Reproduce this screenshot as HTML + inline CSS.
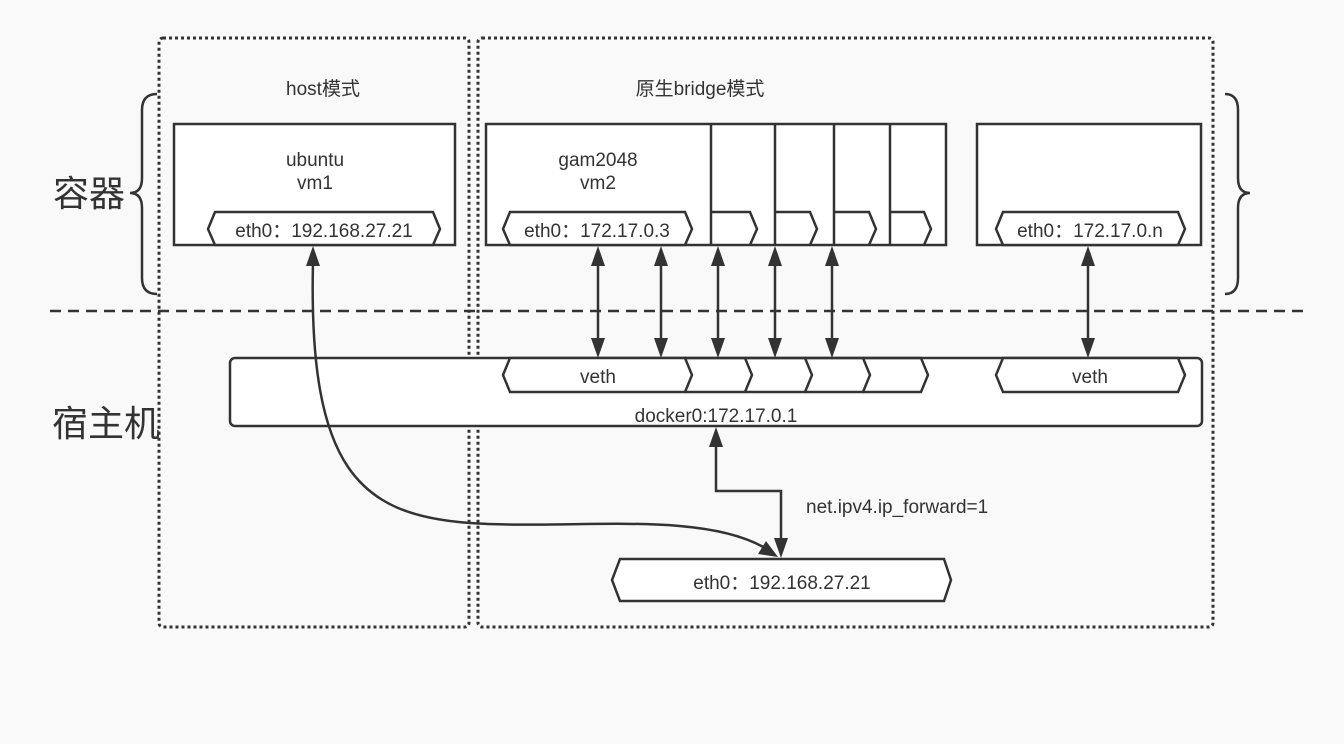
<!DOCTYPE html>
<html><head><meta charset="utf-8"><style>
html,body{margin:0;padding:0;background:#f9f9f9;}
svg{display:block;}
text{font-family:"Liberation Sans","Noto Sans CJK SC",sans-serif;fill:#333;}
</style></head><body>
<svg width="1344" height="744" viewBox="0 0 1344 744" xmlns="http://www.w3.org/2000/svg">
<rect width="1344" height="744" fill="#f9f9f9"/>
<g fill="none" stroke="#333" stroke-width="3" stroke-dasharray="3 3">
<rect x="159" y="38" width="310" height="589" rx="4"/>
<rect x="478" y="38" width="735" height="589" rx="4"/>
</g>
<line x1="50" y1="311" x2="1306" y2="311" stroke="#333" stroke-width="2.5" stroke-dasharray="11 7"/>
<g fill="none" stroke="#333" stroke-width="2.5">
<path d="M157,94 Q142,94 142,110 L142,178 Q142,193 130,193 Q142,193 142,208 L142,278 Q142,294 157,294"/>
<path d="M1225,94 Q1238,94 1238,110 L1238,178 Q1238,193 1250,193 Q1238,193 1238,208 L1238,278 Q1238,294 1225,294"/>
</g>
<text x="53" y="206" font-size="36">容器</text>
<text x="52" y="436" font-size="36">宿主机</text>
<text x="323" y="95" font-size="19" text-anchor="middle">host模式</text>
<text x="700" y="95" font-size="19" text-anchor="middle">原生bridge模式</text>
<g fill="#fff" stroke="#333" stroke-width="2.5">
<rect x="174" y="124" width="281" height="121"/>
<rect x="486" y="124" width="460" height="121"/>
<rect x="977" y="124" width="224" height="121"/>
<rect x="230" y="358" width="972" height="68" rx="5"/>
</g>
<g fill="none" stroke="#333" stroke-width="2.5">
<line x1="711" y1="124" x2="711" y2="245"/>
<line x1="775" y1="124" x2="775" y2="245"/>
<line x1="834" y1="124" x2="834" y2="245"/>
<line x1="890" y1="124" x2="890" y2="245"/>
<path d="M711,212 L750,212 L757,229 L750,245"/>
<path d="M775,212 L810,212 L817,229 L810,245"/>
<path d="M834,212 L869,212 L876,229 L869,245"/>
<path d="M890,212 L924,212 L931,229 L924,245"/>
</g>
<g fill="#fff" stroke="#333" stroke-width="2.5">
<path d="M215,212 L433,212 L440,229 L433,245 L215,245 L208,229 Z"/>
<path d="M510,212 L685,212 L692,229 L685,245 L510,245 L503,229 Z"/>
<path d="M1003,212 L1178,212 L1185,229 L1178,245 L1003,245 L996,229 Z"/>
<path d="M510,358 L685,358 L692,375 L685,392 L510,392 L503,375 Z"/>
<path d="M1003,358 L1178,358 L1185,375 L1178,392 L1003,392 L996,375 Z"/>
<path d="M620,559 L944,559 L951,580 L944,601 L620,601 L612,580 Z"/>
</g>
<g fill="none" stroke="#333" stroke-width="2.5">
<path d="M685,358 L745,358 L752,375 L745,392 L685,392"/>
<path d="M745,358 L805,358 L812,375 L805,392 L745,392"/>
<path d="M805,358 L863,358 L870,375 L863,392 L805,392"/>
<path d="M863,358 L921,358 L928,375 L921,392 L863,392"/>
</g>
<text x="315" y="166" font-size="19" text-anchor="middle">ubuntu</text>
<text x="315" y="189" font-size="19" text-anchor="middle">vm1</text>
<text x="598" y="166" font-size="19" text-anchor="middle">gam2048</text>
<text x="598" y="189" font-size="19" text-anchor="middle">vm2</text>
<text x="324" y="237" font-size="19" text-anchor="middle">eth0：192.168.27.21</text>
<text x="597" y="237" font-size="19" text-anchor="middle">eth0：172.17.0.3</text>
<text x="1090" y="237" font-size="19" text-anchor="middle">eth0：172.17.0.n</text>
<text x="598" y="383" font-size="19" text-anchor="middle">veth</text>
<text x="1090" y="383" font-size="19" text-anchor="middle">veth</text>
<text x="716" y="422" font-size="19" text-anchor="middle">docker0:172.17.0.1</text>
<text x="806" y="513" font-size="19">net.ipv4.ip_forward=1</text>
<text x="782" y="589" font-size="19" text-anchor="middle">eth0：192.168.27.21</text>
<g stroke="#333" stroke-width="2.5" fill="none">
<line x1="598" y1="262" x2="598" y2="342"/>
<line x1="661" y1="262" x2="661" y2="342"/>
<line x1="718" y1="262" x2="718" y2="342"/>
<line x1="775" y1="262" x2="775" y2="342"/>
<line x1="832" y1="262" x2="832" y2="342"/>
<line x1="1088" y1="262" x2="1088" y2="342"/>
<path d="M716,443 L716,491 L781,491 L781,542"/>
<path d="M313,262 C308,470 360,515 470,523 C570,530 700,510 765,548"/>
</g>
<g fill="#333">
<path d="M598,246 l-7,20 h14z M598,358 l-7,-20 h14z"/>
<path d="M661,246 l-7,20 h14z M661,358 l-7,-20 h14z"/>
<path d="M718,246 l-7,20 h14z M718,358 l-7,-20 h14z"/>
<path d="M775,246 l-7,20 h14z M775,358 l-7,-20 h14z"/>
<path d="M832,246 l-7,20 h14z M832,358 l-7,-20 h14z"/>
<path d="M1088,246 l-7,20 h14z M1088,358 l-7,-20 h14z"/>
<path d="M716,427 l-7,20 h14z"/>
<path d="M781,558 l-7,-20 h14z"/>
<path d="M313,246 l-7,20 h14z"/>
<path d="M778,557 l-20,-3 l8,-13z"/>
</g>
</svg>
</body></html>
